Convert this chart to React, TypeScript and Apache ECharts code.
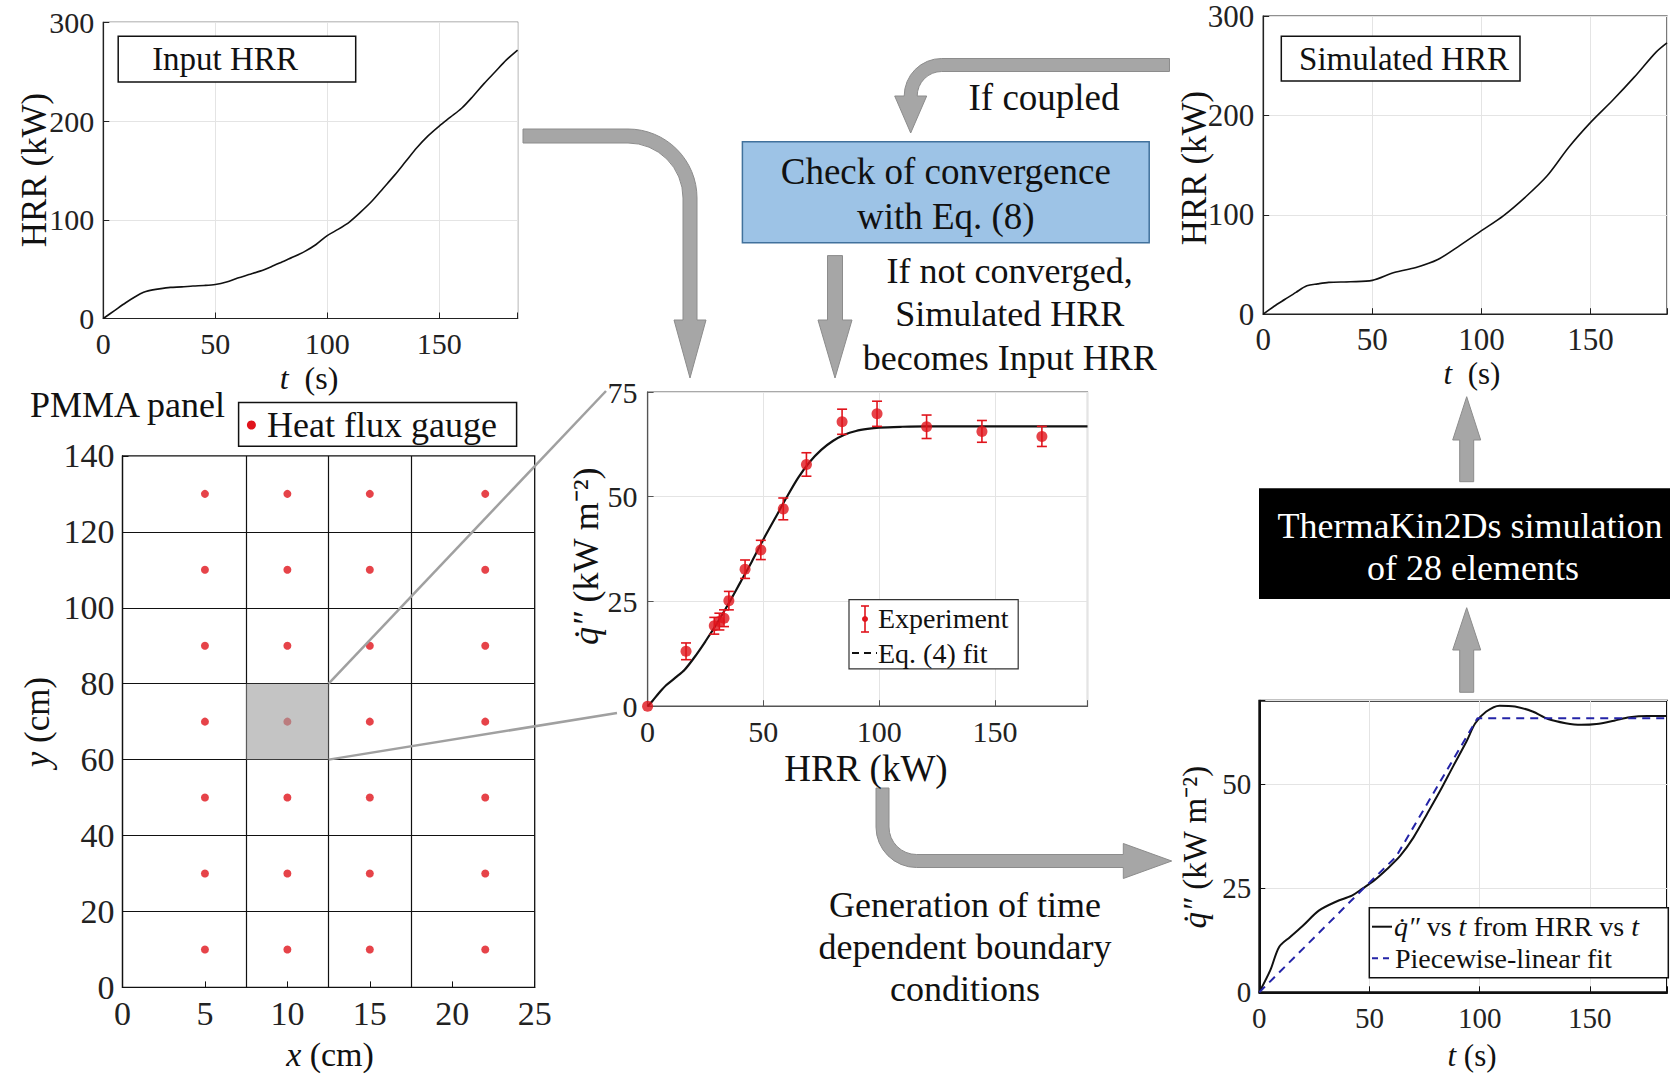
import React, { useEffect, useRef } from "react";
import * as echarts from "echarts";

const FONT = "Liberation Serif";

// ---- Top-left: Input HRR vs t ----
const inputT = [0, 5, 10, 15, 18, 20, 25, 30, 35, 40, 45, 50, 55, 60, 65, 70, 75, 80, 85, 90, 95, 100, 105, 110, 115, 120, 125, 130, 135, 140, 145, 150, 155, 160, 165, 170, 175, 180, 185];
const inputHRR = [0, 8, 16, 23, 26.5, 28, 30, 31.5, 32, 33, 33.5, 34.5, 37, 41, 44.5, 48, 52.5, 57.5, 62.5, 68, 75, 84, 90.5, 98, 108, 119, 132, 145, 159, 173, 185, 195, 204, 213, 225, 238, 250, 262, 272];

// ---- Top-right: Simulated HRR vs t ----
const simT = [0, 5, 10, 15, 20, 25, 30, 40, 50, 60, 70, 80, 90, 100, 110, 120, 130, 140, 150, 160, 170, 180, 185];
const simHRR = [0, 8, 15, 22, 28.5, 30.5, 32, 32.6, 34, 42, 47, 55, 69, 84, 99, 117.6, 139, 168, 193, 215, 238.5, 263.7, 273];

// ---- Middle: heat flux vs HRR ----
const expHRR = [0, 16.6, 28.8, 31, 33, 35.1, 42.1, 48.9, 58.6, 68.6, 84, 99.1, 120.5, 144.4, 170.3];
const expQ = [0, 13.1, 19.2, 20.2, 21, 25.2, 32.7, 37.3, 47.1, 57.7, 67.9, 69.8, 66.7, 65.6, 64.4];
const expErr = [0, 2, 2, 2, 2, 2.2, 2.2, 2.3, 2.6, 2.8, 3, 3, 2.8, 2.6, 2.4];
const fitHRR = [0, 2, 5, 8, 12, 16, 20, 25, 30, 35, 40, 45, 50, 55, 60, 65, 70, 75, 80, 85, 90, 95, 100, 110, 120, 130, 150, 170, 190];
const fitQ = [0, 1.2, 3.2, 5, 6.8, 8.7, 11.5, 15.5, 19.8, 24.5, 29.5, 34.5, 39.8, 44.8, 49.8, 54.5, 58.3, 61.2, 63.3, 64.8, 65.7, 66.2, 66.5, 66.7, 66.8, 66.8, 66.8, 66.8, 66.8];

// ---- Bottom-left: PMMA panel with gauges ----
const gaugeX = [5, 10, 15, 22];
const gaugeY = [10, 30, 50, 70, 90, 110, 130];
const cellX = [7.5, 12.5, 17.5];
const cellY = [20, 40, 60, 80, 100, 120];
const zoomCell = [7.5, 60, 12.5, 80];

// ---- Bottom-right: q vs t ----
const bcT = [0, 5, 9, 14, 20, 27, 35, 42, 46, 52, 58, 64, 70, 76, 82, 88, 94, 98, 103, 109, 116, 124, 131, 139, 146, 153, 161, 168, 176, 185];
const bcQ = [0, 5.3, 10.9, 13.3, 16.1, 19.6, 21.8, 23.2, 24.6, 26.8, 29.6, 32.8, 37.2, 42.7, 48.3, 54.3, 60.2, 64.6, 67.4, 68.8, 68.6, 67.4, 65.6, 64.6, 64.2, 64.4, 65.2, 66, 66.3, 66.3];
const pwT = [0, 47, 62, 99, 185];
const pwQ = [0, 24.8, 32.5, 65.8, 65.8];

// tick labels
const ticksTime = [0, 50, 100, 150];
const ticksHRR = [0, 100, 200, 300];
const ticksQ = [0, 25, 50, 75];
const ticksQb = [0, 25, 50];
const ticksXcm = [0, 5, 10, 15, 20, 25];
const ticksYcm = [0, 20, 40, 60, 80, 100, 120, 140];

// ---- arrow shapes ----
function pathRightDown(x0, yc, vx, R, w, hb, hw, tip) {
  const ax = vx - R, ay = yc + R;
  return `M${x0},${yc - w} L${ax},${yc - w} A${R + w},${R + w} 0 0 1 ${vx + w},${ay} L${vx + w},${hb} L${vx + hw},${hb} L${vx},${tip} L${vx - hw},${hb} L${vx - w},${hb} L${vx - w},${ay} A${R - w},${R - w} 0 0 0 ${ax},${yc + w} L${x0},${yc + w} Z`;
}
function pathLeftDown(x0, yc, vx, R, w, hb, hw, tip) {
  const ax = vx + R, ay = yc + R;
  return `M${x0},${yc - w} L${ax},${yc - w} A${R + w},${R + w} 0 0 0 ${vx - w},${ay} L${vx - w},${hb} L${vx - hw},${hb} L${vx},${tip} L${vx + hw},${hb} L${vx + w},${hb} L${vx + w},${ay} A${R - w},${R - w} 0 0 1 ${ax},${yc + w} L${x0},${yc + w} Z`;
}
function pathDownRight(vx, y0, yc, R, w, hx, hw, tip) {
  const ax = vx + R, ay = yc - R;
  return `M${vx - w},${y0} L${vx - w},${ay} A${R + w},${R + w} 0 0 0 ${ax},${yc + w} L${hx},${yc + w} L${hx},${yc + hw} L${tip},${yc} L${hx},${yc - hw} L${hx},${yc - w} L${ax},${yc - w} A${R - w},${R - w} 0 0 1 ${vx + w},${ay} L${vx + w},${y0} Z`;
}

echarts.graphic.registerShape("arrowA", echarts.graphic.extendPath(pathRightDown(523, 136, 690, 62, 7, 320, 16, 378), {}));
echarts.graphic.registerShape("arrowB", echarts.graphic.extendPath(pathLeftDown(1169.5, 65, 910.7, 31, 6.5, 96, 16, 133), {}));
echarts.graphic.registerShape("arrowC", echarts.graphic.extendPath(pathDownRight(882.5, 788, 861, 34, 6.5, 1123.3, 17.5, 1171.7), {}));

const ARROW_STYLE = { fill: "#a6a6a6", stroke: "#8c8c8c", lineWidth: 1 };

function vArrow(cx, start, hb, tip, w, hw) {
  return {
    type: "polygon",
    z: 5,
    shape: {
      points: [
        [cx - w, start], [cx + w, start], [cx + w, hb], [cx + hw, hb], [cx, tip], [cx - hw, hb], [cx - w, hb],
      ],
    },
    style: ARROW_STYLE,
  };
}

const richI = (fs, fill = "#111") => ({ i: { fontStyle: "italic", fontFamily: FONT, fontSize: fs, fill } });

function T(x, y, text, fs, opts: any = {}) {
  return {
    type: "text",
    x,
    y,
    z: 20,
    rotation: opts.rot || 0,
    style: {
      text,
      fontFamily: FONT,
      fontSize: fs,
      fill: opts.fill || "#111",
      align: opts.align || "center",
      verticalAlign: "middle",
      rich: opts.rich,
    },
  };
}

const QDOT = "q\u0307\u2033";

const grids = [
  { left: 103.3, top: 22.4, width: 414.3, height: 296.1, show: true, borderColor: "#222", borderWidth: 1.2 },
  { left: 1263.2, top: 16, width: 415.1, height: 298.2, show: true, borderColor: "#222", borderWidth: 1.2 },
  { left: 647.6, top: 392, width: 439.9, height: 314.2, show: true, borderColor: "#555", borderWidth: 1.2 },
  { left: 122.5, top: 455.9, width: 412.2, height: 531.5, show: true, borderColor: "#111", borderWidth: 1.3 },
  { left: 1259.3, top: 700.7, width: 415, height: 291.6, show: true, borderColor: "#111", borderWidth: 2 },
];

function mkAxis(gi, min, max, interval, ticks, fs, opts: any = {}) {
  const color = opts.color || "#222";
  return {
    gridIndex: gi,
    type: "value",
    min,
    max,
    interval,
    axisLine: { show: true, onZero: false, lineStyle: { color, width: opts.lw || 1.2 } },
    axisTick: { show: true, inside: true, length: 6, lineStyle: { color, width: 1 } },
    axisLabel: {
      fontFamily: FONT,
      fontSize: fs,
      color: "#222",
      margin: opts.margin ?? 10,
      formatter: (v) => (ticks.includes(v) ? String(v) : ""),
    },
    splitLine: { show: opts.split !== false, lineStyle: { color: "#e4e4e4", width: 1 } },
  };
}

const RED = "#e0141c";

const option: any = {
  animation: false,
  backgroundColor: "#fff",
  textStyle: { fontFamily: FONT },
  grid: grids,
  xAxis: [
    mkAxis(0, 0, 185, 50, ticksTime, 30, { margin: 10 }),
    mkAxis(1, 0, 185, 50, ticksTime, 31, { margin: 10 }),
    mkAxis(2, 0, 190, 50, ticksTime, 30, { margin: 10, color: "#555" }),
    mkAxis(3, 0, 25, 5, ticksXcm, 34, { margin: 9, split: false, color: "#111" }),
    mkAxis(4, 0, 185, 50, ticksTime, 29, { margin: 11, color: "#111", lw: 2 }),
  ],
  yAxis: [
    mkAxis(0, 0, 300, 100, ticksHRR, 30, { margin: 9 }),
    mkAxis(1, 0, 300, 100, ticksHRR, 31, { margin: 9 }),
    mkAxis(2, 0, 75, 25, ticksQ, 30, { margin: 10, color: "#555" }),
    mkAxis(3, 0, 140, 20, ticksYcm, 34, { margin: 8, split: false, color: "#111" }),
    mkAxis(4, 0, 70, 25, ticksQb, 29, { margin: 8, color: "#111", lw: 2 }),
  ],
  series: [
    {
      type: "line", xAxisIndex: 0, yAxisIndex: 0, showSymbol: false, smooth: 0.3,
      lineStyle: { color: "#111", width: 1.6 },
      data: inputT.map((t, i) => [t, inputHRR[i]]),
    },
    {
      type: "line", xAxisIndex: 1, yAxisIndex: 1, showSymbol: false, smooth: 0.3,
      lineStyle: { color: "#111", width: 1.6 },
      data: simT.map((t, i) => [t, simHRR[i]]),
    },
    {
      type: "line", xAxisIndex: 2, yAxisIndex: 2, showSymbol: false, smooth: 0.3, z: 3,
      lineStyle: { color: "#111", width: 2.2 },
      data: fitHRR.map((h, i) => [h, fitQ[i]]),
    },
    {
      type: "custom", xAxisIndex: 2, yAxisIndex: 2, z: 4,
      data: expHRR.map((h, i) => [h, expQ[i] - expErr[i], expQ[i] + expErr[i]]),
      encode: { x: 0, y: [1, 2] },
      renderItem: (params, api) => {
        const x = api.value(0);
        const lo = api.coord([x, api.value(1)]);
        const hi = api.coord([x, api.value(2)]);
        const cw = 5;
        const st = { stroke: RED, lineWidth: 1.6 };
        if (Math.abs(lo[1] - hi[1]) < 1) return { type: "group", children: [] };
        return {
          type: "group",
          children: [
            { type: "line", shape: { x1: lo[0], y1: lo[1], x2: hi[0], y2: hi[1] }, style: st },
            { type: "line", shape: { x1: lo[0] - cw, y1: lo[1], x2: lo[0] + cw, y2: lo[1] }, style: st },
            { type: "line", shape: { x1: hi[0] - cw, y1: hi[1], x2: hi[0] + cw, y2: hi[1] }, style: st },
          ],
        };
      },
    },
    {
      type: "scatter", xAxisIndex: 2, yAxisIndex: 2, z: 5, symbolSize: 11,
      itemStyle: { color: RED },
      data: expHRR.map((h, i) => [h, expQ[i]]),
    },
    {
      type: "scatter", xAxisIndex: 3, yAxisIndex: 3, z: 2, symbolSize: 8,
      itemStyle: { color: RED },
      data: gaugeY.flatMap((y) => gaugeX.map((x) => [x, y])),
      markLine: {
        silent: true,
        symbol: ["none", "none"],
        label: { show: false },
        lineStyle: { color: "#111", width: 1.2, type: "solid" },
        data: [...cellX.map((x) => ({ xAxis: x })), ...cellY.map((y) => ({ yAxis: y }))],
      },
    },
    {
      type: "custom", xAxisIndex: 3, yAxisIndex: 3, z: 6,
      data: [zoomCell],
      encode: { x: [0, 2], y: [1, 3] },
      renderItem: (params, api) => {
        const p1 = api.coord([api.value(0), api.value(3)]);
        const p2 = api.coord([api.value(2), api.value(1)]);
        return {
          type: "rect",
          shape: { x: p1[0], y: p1[1], width: p2[0] - p1[0], height: p2[1] - p1[1] },
          style: { fill: "rgba(160,160,160,0.62)" },
        };
      },
    },
    {
      type: "line", xAxisIndex: 4, yAxisIndex: 4, showSymbol: false, smooth: 0.3, z: 3,
      lineStyle: { color: "#111", width: 2 },
      data: bcT.map((t, i) => [t, bcQ[i]]),
    },
    {
      type: "line", xAxisIndex: 4, yAxisIndex: 4, showSymbol: false, z: 4,
      lineStyle: { color: "#2424a8", width: 2, type: [8, 6] },
      data: pwT.map((t, i) => [t, pwQ[i]]),
    },
  ],
};

const staticGraphics: any[] = [
  // top-left label box
  { type: "rect", z: 15, shape: { x: 118.2, y: 36.2, width: 237.5, height: 45.8 }, style: { fill: "#fff", stroke: "#111", lineWidth: 1.5 } },
  T(225, 59, "Input HRR", 33),
  // top-right label box
  { type: "rect", z: 15, shape: { x: 1281.3, y: 36.2, width: 238.7, height: 44.8 }, style: { fill: "#fff", stroke: "#111", lineWidth: 1.5 } },
  T(1404, 58.6, "Simulated HRR", 33),
  // axis names
  T(34, 170, "HRR (kW)", 35, { rot: Math.PI / 2 }),
  T(1194, 168, "HRR (kW)", 35, { rot: Math.PI / 2 }),
  T(309, 378, "{i|t}  (s)", 32, { rich: richI(32) }),
  T(1472, 373, "{i|t}  (s)", 31, { rich: richI(31) }),
  T(866, 768, "HRR (kW)", 37),
  T(586, 556, `{i|${QDOT}} (kW m⁻²)`, 36, { rot: Math.PI / 2, rich: richI(36) }),
  T(1195, 847, `{i|${QDOT}} (kW m⁻²)`, 33, { rot: Math.PI / 2, rich: richI(33) }),
  T(1472, 1055, "{i|t} (s)", 31, { rich: richI(31) }),
  T(37, 722, "{i|y} (cm)", 35, { rot: Math.PI / 2, rich: richI(35) }),
  T(330, 1054, "{i|x} (cm)", 34, { rich: richI(34) }),
  // bottom-left title + legend
  T(30, 405, "PMMA panel", 36, { align: "left" }),
  { type: "rect", z: 15, shape: { x: 238.6, y: 402.6, width: 278, height: 43.7 }, style: { fill: "#fff", stroke: "#111", lineWidth: 1.5 } },
  { type: "circle", z: 16, shape: { cx: 251.4, cy: 425, r: 4.5 }, style: { fill: RED } },
  T(267, 425, "Heat flux gauge", 36, { align: "left" }),
  // flow texts
  T(1044, 97, "If coupled", 37),
  { type: "rect", z: 10, shape: { x: 742.4, y: 141.7, width: 406.8, height: 101.1 }, style: { fill: "#9dc3e6", stroke: "#41719c", lineWidth: 1.5 } },
  T(945.8, 171.5, "Check of convergence", 37),
  T(945.8, 216.2, "with Eq. (8)", 37),
  T(1009.7, 270.5, "If not converged,", 36),
  T(1009.7, 314.2, "Simulated HRR", 36),
  T(1009.7, 357.9, "becomes Input HRR", 36),
  T(965, 905, "Generation of time", 36),
  T(965, 947, "dependent boundary", 36),
  T(965, 989, "conditions", 36),
  { type: "rect", z: 10, shape: { x: 1259, y: 488.3, width: 428, height: 110.7 }, style: { fill: "#000" } },
  T(1470, 525.7, "ThermaKin2Ds simulation", 36, { fill: "#fff" }),
  T(1473, 568.3, "of 28 elements", 36, { fill: "#fff" }),
  // arrows
  { type: "arrowA", z: 5, style: ARROW_STYLE },
  { type: "arrowB", z: 5, style: ARROW_STYLE },
  { type: "arrowC", z: 5, style: ARROW_STYLE },
  vArrow(835, 255.6, 320, 378, 7.5, 17),
  vArrow(1466.7, 481.7, 440, 396.7, 7, 14),
  vArrow(1466.7, 692.3, 650, 607.7, 7, 14),
  // middle legend
  { type: "rect", z: 15, shape: { x: 849, y: 599.6, width: 169.2, height: 69.3 }, style: { fill: "#fff", stroke: "#333", lineWidth: 1.2 } },
  { type: "line", z: 16, shape: { x1: 865, y1: 606, x2: 865, y2: 632 }, style: { stroke: RED, lineWidth: 1.6 } },
  { type: "line", z: 16, shape: { x1: 861, y1: 606, x2: 869, y2: 606 }, style: { stroke: RED, lineWidth: 1.6 } },
  { type: "line", z: 16, shape: { x1: 861, y1: 632, x2: 869, y2: 632 }, style: { stroke: RED, lineWidth: 1.6 } },
  { type: "circle", z: 16, shape: { cx: 865, cy: 619, r: 3 }, style: { fill: RED } },
  T(878, 618, "Experiment", 28, { align: "left" }),
  { type: "line", z: 16, shape: { x1: 852, y1: 653, x2: 877, y2: 653 }, style: { stroke: "#111", lineWidth: 2, lineDash: [7, 5] } },
  T(878, 653, "Eq. (4) fit", 28, { align: "left" }),
  // bottom-right legend
  { type: "rect", z: 15, shape: { x: 1369.3, y: 907.7, width: 299, height: 70 }, style: { fill: "#fff", stroke: "#111", lineWidth: 1.5 } },
  { type: "line", z: 16, shape: { x1: 1372, y1: 926.7, x2: 1392, y2: 926.7 }, style: { stroke: "#111", lineWidth: 2 } },
  T(1394, 926.7, `{i|${QDOT}} vs {i|t} from HRR vs {i|t}`, 28, { align: "left", rich: richI(28) }),
  { type: "line", z: 16, shape: { x1: 1372, y1: 958.3, x2: 1393, y2: 958.3 }, style: { stroke: "#2424a8", lineWidth: 2, lineDash: [6, 5] } },
  T(1395, 958.3, "Piecewise-linear fit", 28, { align: "left" }),
];

export default function App() {
  const ref = useRef<HTMLDivElement>(null);
  useEffect(() => {
    const el = ref.current;
    if (!el) return;
    const chart = echarts.init(el, undefined, { renderer: "svg" });
    chart.setOption(option);
    const p80 = chart.convertToPixel({ seriesIndex: 5 }, [zoomCell[2], zoomCell[3]]);
    const p60 = chart.convertToPixel({ seriesIndex: 5 }, [zoomCell[2], zoomCell[1]]);
    const lines = [
      { type: "line", z: 12, shape: { x1: p80[0], y1: p80[1], x2: 606, y2: 391 }, style: { stroke: "#a0a0a0", lineWidth: 2.5 } },
      { type: "line", z: 12, shape: { x1: p60[0], y1: p60[1], x2: 617, y2: 713 }, style: { stroke: "#a0a0a0", lineWidth: 2.5 } },
    ];
    chart.setOption({ graphic: [...staticGraphics, ...lines] });
    return () => chart.dispose();
  }, []);
  return (
    <div
      ref={ref}
      style={{ position: "absolute", left: 0, top: 0, width: 1670, height: 1074, overflow: "hidden", background: "#fff" }}
    />
  );
}
